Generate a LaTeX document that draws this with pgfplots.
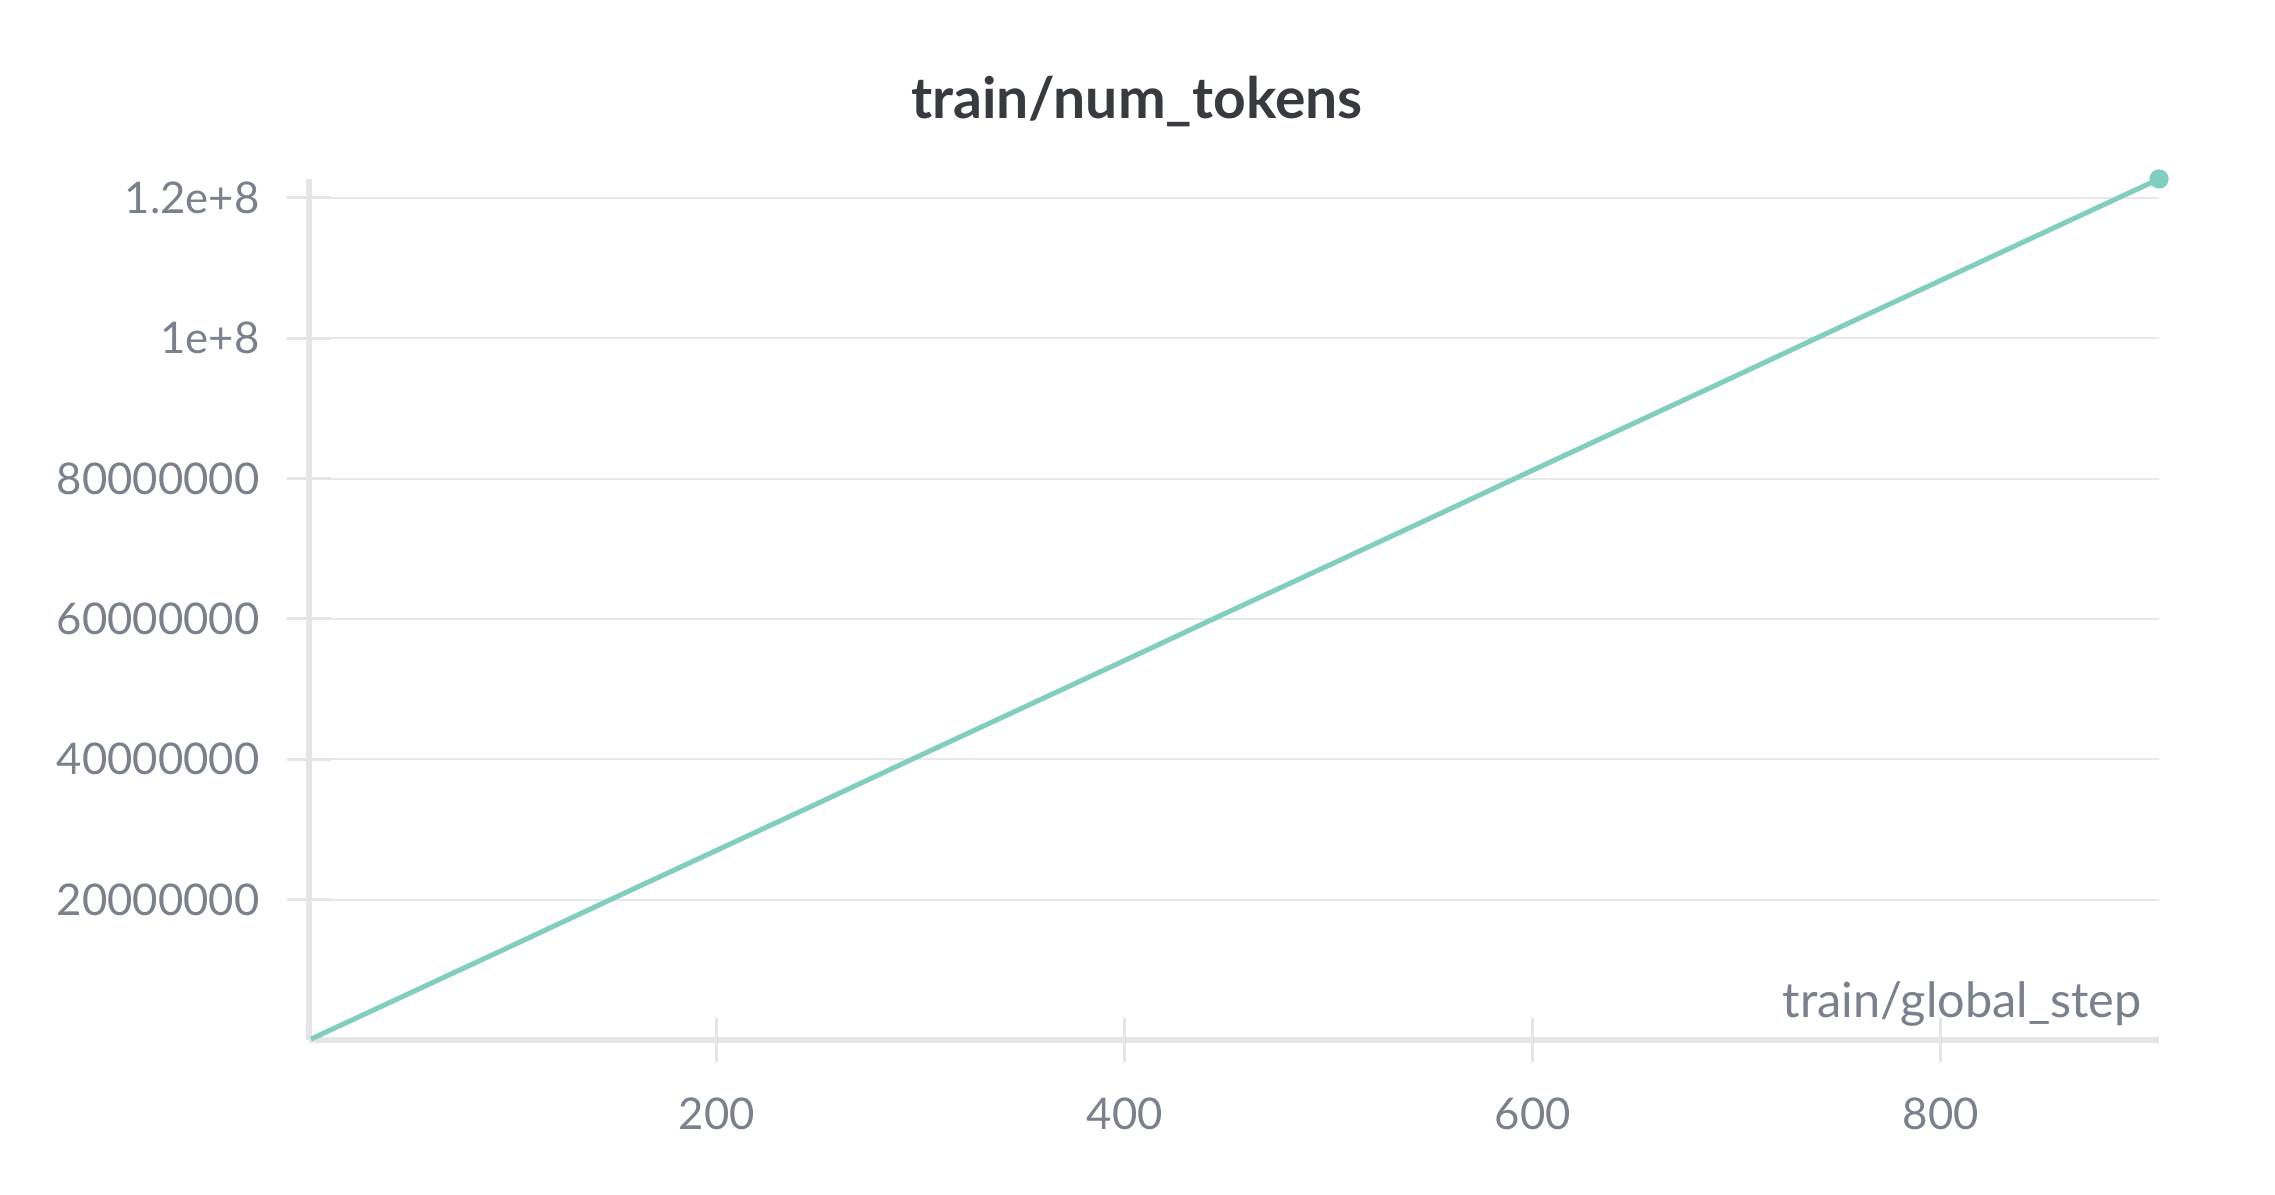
\documentclass[border=0pt]{standalone}
\usepackage{pgfplots}
\pgfplotsset{compat=1.18}
\usepackage{fontspec}
\setmainfont{Lato}
\definecolor{lineteal}{RGB}{130,206,190}
\definecolor{spinegray}{RGB}{229,229,232}
\definecolor{gridgray}{RGB}{232,232,234}
\definecolor{ticktext}{RGB}{122,128,140}
\definecolor{titletext}{RGB}{55,58,62}
\begin{document}
\begin{tikzpicture}
\useasboundingbox (-92.7pt,-46.5pt) rectangle (589.8pt,312pt);
\begin{axis}[
  scale only axis,
  width=555pt, height=258.3pt,
  xmin=0, xmax=907,
  ymin=0, ymax=1.227e8,
  axis x line=bottom, axis y line=left,
  axis line style={-, spinegray, line width=1.8pt},
  xtick={200,400,600,800},
  ytick={20000000,40000000,60000000,80000000,100000000,120000000},
  yticklabels={20000000,40000000,60000000,80000000,1e+8,1.2e+8},
  scaled y ticks=false,
  tick align=center,
  major tick length=13pt,
  tick style={spinegray, line width=0.9pt},
  ymajorgrids=true,
  grid style={gridgray, line width=0.6pt},
  /pgf/number format/assume math mode=true,
  ticklabel style={font=\fontsize{13.1pt}{16pt}\selectfont, text=ticktext},
  yticklabel style={xshift=-4.8pt},
  xticklabel style={yshift=-7.4pt},
  clip=false,
]
\addplot[lineteal, line width=1.5pt] coordinates {
(1,135000) (50,6750000) (100,13500000) (150,20300000) (200,27050000)
(250,33800000) (300,40600000) (350,47350000) (400,54100000)
(450,60900000) (500,67650000) (550,74400000) (600,81200000)
(650,87950000) (700,94700000) (750,101500000) (800,108250000)
(850,115000000) (907,122700000)
};
\addplot[only marks, mark=*, mark size=2.7pt, mark options={fill=lineteal, draw=lineteal}] coordinates {(907,122700000)};
\node[anchor=south east, font=\fontsize{14.6pt}{17pt}\selectfont, text=ticktext, inner sep=0pt] at (rel axis cs:1,0) [xshift=-5pt, yshift=4pt] {train/global\_step};
\end{axis}
\node[font=\fontsize{17.1pt}{20pt}\selectfont\bfseries, text=titletext] at (248.4pt,281.4pt) {train/num\_tokens};
\end{tikzpicture}
\end{document}
